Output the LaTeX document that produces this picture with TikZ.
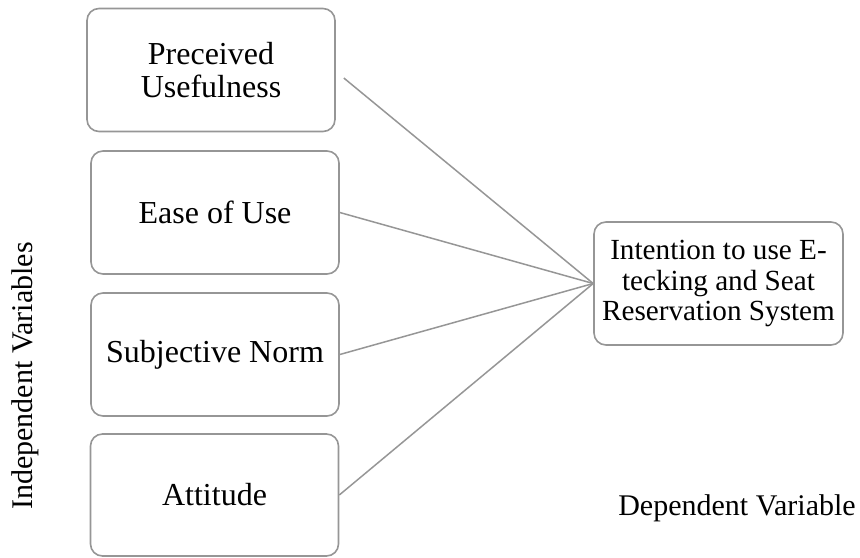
\documentclass[tikz,border=0pt]{standalone}
\usepackage{fontspec}
\setmainfont{Liberation Serif}
\usepackage{tikz}
\usetikzlibrary{positioning, calc}
\definecolor{boxgray}{RGB}{150,150,150}

\begin{document}
\begin{tikzpicture}[x=0.5pt, y=-0.5pt,
    varbox/.style={draw=boxgray, line width=0.8pt, rounded corners=6pt, fill=white,
        minimum width=124pt, minimum height=61.5pt, align=center,
        font=\fontsize{16}{16.5}\selectfont},
    link/.style={draw=boxgray, line width=0.75pt},
    caption/.style={font=\fontsize{15}{16.5}\selectfont}]

    % Page frame
    \useasboundingbox (0,0) rectangle (860,557);

    % Independent variable boxes
    \node[varbox] (useful) at (211,70) {Preceived\\Usefulness};
    \node[varbox] (ease) at (215,212.5) {Ease of Use};
    \node[varbox] (norm) at (215,354.5) {Subjective Norm};
    \node[varbox, minimum height=61pt] (attitude) at (214.5,495) {Attitude};

    % Dependent variable box
    \node[varbox, minimum width=124.5pt, font=\fontsize{14.6}{15.3}\selectfont] (intent) at (718.5,283.5)
        {Intention to use E-\\tecking and Seat\\Reservation System};

    % Links into the dependent variable
    \draw[link] ([xshift=4pt, yshift=-4pt]useful.east) -- (intent.west);
    \draw[link] (ease.east) -- (intent.west);
    \draw[link] (norm.east) -- (intent.west);
    \draw[link] (attitude.east) -- (intent.west);

    % Side captions
    \node[caption, rotate=90] (indep) at (25,376) {Independent Variables};
    \node[caption] (dep) at (737,508) {Dependent Variable};

\end{tikzpicture}
\end{document}
